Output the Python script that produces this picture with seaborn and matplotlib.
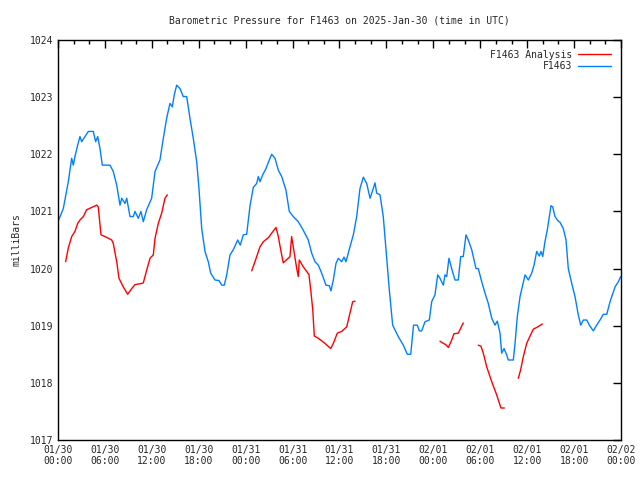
import pandas as pd
import numpy as np
import matplotlib
matplotlib.use("Agg")
import matplotlib.pyplot as plt
import seaborn as sns

# hours since 2025-01-30 00:00 UTC, pressure in mbar
obs_hours = [0.0, 0.68, 1.32, 1.75, 1.96, 2.17, 2.52, 2.81, 3.03, 3.45, 3.88, 4.51, 4.82, 5.08, 5.37, 5.67,
             6.65, 7.07, 7.51, 7.93, 8.15, 8.57, 8.79, 9.21, 9.63, 9.85, 10.27, 10.61, 10.91, 11.34, 11.98,
             12.41, 13.04, 13.47, 13.90, 14.32, 14.62, 14.87, 15.18, 15.60, 16.02, 16.46, 16.88, 17.30, 17.74,
             18.03, 18.38, 18.80, 19.22, 19.53, 20.08, 20.59, 20.94, 21.27, 21.58, 22.00, 22.42, 22.98, 23.31,
             23.70, 24.13, 24.56, 24.98, 25.41, 25.62, 25.83, 26.18, 26.60, 27.02, 27.33, 27.75, 28.18, 28.61,
             29.16, 29.58, 30.09, 30.73, 31.37, 32.01, 32.44, 32.87, 33.29, 33.72, 34.27, 34.70, 34.91, 35.21,
             35.55, 35.85, 36.28, 36.58, 36.83, 37.34, 37.77, 38.20, 38.62, 39.05, 39.48, 39.91, 40.20, 40.54,
             40.76, 41.18, 41.60, 42.04, 42.37, 42.80, 43.52, 44.16, 44.67, 45.11, 45.47, 45.95, 46.21, 46.51,
             46.94, 47.49, 47.79, 48.21, 48.56, 48.85, 49.28, 49.49, 49.71, 50.00, 50.35, 50.77, 51.19, 51.50,
             51.83, 52.18, 52.47, 52.91, 53.46, 53.75, 54.19, 54.61, 55.03, 55.47, 55.89, 56.18, 56.53, 56.74,
             57.04, 57.38, 57.59, 58.23, 58.45, 58.74, 59.09, 59.43, 59.73, 60.15, 60.58, 60.88, 61.22, 61.55,
             61.77, 61.99, 62.28, 62.58, 62.83, 63.05, 63.27, 63.56, 63.91, 64.20, 64.62, 64.97, 65.26, 65.70,
             66.12, 66.54, 66.85, 67.18, 67.62, 67.95, 68.46, 68.89, 69.32, 69.74, 70.18, 70.60, 71.24, 71.66,
             71.96]
obs_mbar = [1020.82, 1021.05, 1021.52, 1021.93, 1021.81, 1021.96, 1022.16, 1022.31, 1022.22, 1022.31, 1022.40,
            1022.40, 1022.22, 1022.31, 1022.10, 1021.81, 1021.81, 1021.70, 1021.46, 1021.11, 1021.23, 1021.14,
            1021.23, 1020.91, 1020.91, 1021.00, 1020.88, 1021.00, 1020.82, 1021.03, 1021.23, 1021.70, 1021.90,
            1022.28, 1022.63, 1022.89, 1022.83, 1023.04, 1023.21, 1023.15, 1023.01, 1023.01, 1022.63, 1022.28,
            1021.87, 1021.40, 1020.70, 1020.30, 1020.12, 1019.92, 1019.80, 1019.79, 1019.71, 1019.71, 1019.89,
            1020.24, 1020.33, 1020.50, 1020.41, 1020.59, 1020.60, 1021.10, 1021.42, 1021.49, 1021.61, 1021.52,
            1021.64, 1021.75, 1021.90, 1022.00, 1021.93, 1021.72, 1021.61, 1021.37, 1021.00, 1020.91, 1020.82,
            1020.67, 1020.50, 1020.27, 1020.12, 1020.06, 1019.92, 1019.71, 1019.70, 1019.61, 1019.80, 1020.09,
            1020.18, 1020.12, 1020.20, 1020.12, 1020.38, 1020.59, 1020.91, 1021.40, 1021.60, 1021.49, 1021.23,
            1021.35, 1021.50, 1021.32, 1021.29, 1020.91, 1020.19, 1019.63, 1019.01, 1018.81, 1018.66, 1018.50,
            1018.50, 1019.01, 1019.01, 1018.91, 1018.91, 1019.07, 1019.10, 1019.42, 1019.54, 1019.89, 1019.83,
            1019.71, 1019.89, 1019.86, 1020.18, 1020.00, 1019.80, 1019.80, 1020.21, 1020.21, 1020.59, 1020.50,
            1020.33, 1020.00, 1020.00, 1019.77, 1019.57, 1019.39, 1019.13, 1019.01, 1019.08, 1018.87, 1018.52,
            1018.60, 1018.49, 1018.40, 1018.40, 1018.69, 1019.16, 1019.51, 1019.71, 1019.89, 1019.80, 1019.92,
            1020.06, 1020.30, 1020.22, 1020.30, 1020.21, 1020.47, 1020.68, 1020.91, 1021.10, 1021.08, 1020.91,
            1020.84, 1020.81, 1020.70, 1020.50, 1020.00, 1019.74, 1019.51, 1019.19, 1019.01, 1019.10, 1019.10,
            1019.01, 1018.91, 1019.01, 1019.10, 1019.20, 1019.20, 1019.42, 1019.68, 1019.77, 1019.86]

# analysis comes in separate runs (gaps between them)
ana_run = [1] * 31 + [2] * 32 + [3] * 8 + [4] * 8 + [5] * 8
ana_hours = [0.98, 1.32, 1.75, 2.17, 2.52, 2.81, 3.24, 3.67, 4.31, 4.95, 5.15, 5.50, 6.01, 6.87, 7.07, 7.51,
             7.80, 8.35, 8.91, 9.43, 9.85, 10.70, 10.91, 11.34, 11.77, 12.19, 12.41, 12.83, 13.26, 13.68, 13.98,
             24.77, 25.19, 25.83, 26.26, 26.90, 27.33, 27.88, 28.18, 28.48, 28.81, 29.67, 29.88, 30.09, 30.53,
             30.73, 30.86, 31.37, 31.81, 32.10, 32.32, 32.58, 32.78, 33.29, 34.15, 34.88, 35.21, 35.72, 36.28,
             36.92, 37.34, 37.69, 37.98,
             48.85, 49.28, 49.58, 49.92, 50.35, 50.64, 51.19, 51.83,
             53.75, 54.10, 54.39, 54.83, 55.47, 56.10, 56.65, 57.08,
             58.87, 59.17, 59.51, 59.94, 60.27, 60.79, 61.22, 61.94]
ana_mbar = [1020.12, 1020.36, 1020.56, 1020.65, 1020.79, 1020.85, 1020.91, 1021.03, 1021.07, 1021.11, 1021.08,
            1020.59, 1020.56, 1020.50, 1020.44, 1020.12, 1019.83, 1019.68, 1019.55, 1019.65, 1019.72, 1019.74,
            1019.75, 1019.97, 1020.18, 1020.24, 1020.53, 1020.79, 1020.97, 1021.23, 1021.29,
            1019.96, 1020.12, 1020.38, 1020.47, 1020.54, 1020.62, 1020.72, 1020.56, 1020.33, 1020.10, 1020.21,
            1020.56, 1020.38, 1020.00, 1019.86, 1020.15, 1020.03, 1019.95, 1019.89, 1019.63, 1019.28, 1018.82,
            1018.78, 1018.69, 1018.60, 1018.69, 1018.87, 1018.90, 1018.98, 1019.22, 1019.42, 1019.43,
            1018.73, 1018.69, 1018.67, 1018.62, 1018.75, 1018.86, 1018.87, 1019.05,
            1018.66, 1018.64, 1018.52, 1018.28, 1018.02, 1017.79, 1017.56, 1017.56,
            1018.08, 1018.23, 1018.46, 1018.69, 1018.79, 1018.94, 1018.97, 1019.03]

tick_hours = list(range(0, 73, 6))
tick_labels = ["01/30\n00:00", "01/30\n06:00", "01/30\n12:00", "01/30\n18:00",
               "01/31\n00:00", "01/31\n06:00", "01/31\n12:00", "01/31\n18:00",
               "02/01\n00:00", "02/01\n06:00", "02/01\n12:00", "02/01\n18:00",
               "02/02\n00:00"]

obs = pd.DataFrame({"hours": obs_hours, "mbar": obs_mbar})
ana = pd.DataFrame({"hours": ana_hours, "mbar": ana_mbar, "run": ana_run})

sns.set_style("white")
plt.rcParams["font.family"] = ["DejaVu Sans Mono"]
plt.rcParams["font.size"] = 7

fig = plt.figure(figsize=(6.4, 4.8), dpi=100)
ax = fig.add_axes([0.0906, 0.0833, 0.8797, 0.8334])

sns.lineplot(data=ana, x="hours", y="mbar", units="run", estimator=None,
             color="#ff0000", lw=1, ax=ax)
sns.lineplot(data=obs, x="hours", y="mbar", color="#0080ff", lw=1, ax=ax)

ax.set_xlim(0, 72)
ax.set_ylim(1017, 1024)
ax.set_xticks(tick_hours)
ax.set_xticklabels(tick_labels)
ax.set_xticks(np.arange(0, 73, 2), minor=True)
ax.set_yticks(range(1017, 1025))
ax.tick_params(which="both", direction="in", top=True, right=True, color="black", labelsize=7)
ax.tick_params(which="major", length=6, width=1)
ax.tick_params(which="minor", length=3, width=1)
for s in ax.spines.values():
    s.set_color("black")
    s.set_linewidth(1)

ax.set_xlabel("")
ax.set_ylabel("milliBars", fontsize=7, labelpad=6)
ax.set_title("Barometric Pressure for F1463 on 2025-Jan-30 (time in UTC)", fontsize=7, pad=12)

h_ana = plt.Line2D([], [], color="#ff0000", lw=1)
h_obs = plt.Line2D([], [], color="#0080ff", lw=1)
ax.legend([h_ana, h_obs], ["F1463 Analysis", "F1463"], loc="upper right", frameon=False,
          markerfirst=False, handlelength=3.4, fontsize=7, borderaxespad=0.6,
          labelspacing=0.15, handletextpad=0.6)

fig.savefig("out.png", dpi=100)
